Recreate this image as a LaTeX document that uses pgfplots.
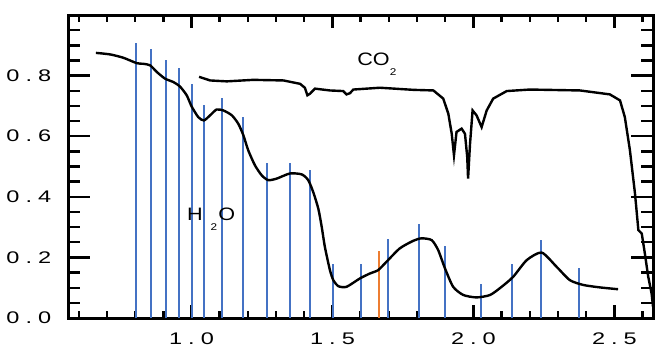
\documentclass[border=0pt]{standalone}
\usepackage{fontspec}
\setmainfont{Liberation Sans}
\newfontfamily\tickfont[FakeStretch=1.4,LetterSpace=36]{Liberation Sans}
\newfontfamily\labfont[FakeStretch=1.2]{Liberation Sans}
\usepackage{pgfplots}
\pgfplotsset{compat=1.18}
\definecolor{vblue}{HTML}{4472C4}
\definecolor{vorange}{HTML}{ED7D31}
\newcommand\sub[1]{\raisebox{-5pt}{\fontsize{4.9}{5}\selectfont #1}}
\begin{document}
\begin{tikzpicture}
\begin{axis}[
  scale only axis, width=292.5pt, height=151.5pt,
  xmin=0.563, xmax=2.638, ymin=0, ymax=1.0,
  xtick={1.0,1.5,2.0,2.5},
  minor xtick={0.6,0.7,0.8,0.9,1.1,1.2,1.3,1.4,1.6,1.7,1.8,1.9,2.1,2.2,2.3,2.4,2.6},
  ytick={0,0.2,0.4,0.6,0.8},
  minor ytick={0.05,0.1,0.15,0.25,0.3,0.35,0.45,0.5,0.55,0.65,0.7,0.75,0.85,0.9,0.95},
  tick align=inside,
  axis line style={line width=1.5pt},
  xtick style={black, line width=1.2pt, /pgfplots/major tick length=6.5pt, /pgfplots/minor tick length=3.5pt},
  ytick style={black, line width=1.2pt, /pgfplots/major tick length=11pt, /pgfplots/minor tick length=6pt},
  xticklabel style={font=\tickfont\fontsize{8.4}{8.4}\selectfont, yshift=-4pt},
  yticklabel style={font=\tickfont\fontsize{8.4}{8.4}\selectfont, xshift=-5pt},
  /pgf/number format/.cd, fixed, fixed zerofill, precision=1, assume math mode=true,
]
\coordinate (ll) at (rel axis cs:0,0);
\coordinate (ur) at (rel axis cs:1,1);
\addplot[ycomb, vblue, line width=0.95pt, mark=none] coordinates {
(0.802,0.907)(0.855,0.888)(0.908,0.852)(0.956,0.826)(1.003,0.773)(1.044,0.702)(1.108,0.727)(1.182,0.665)(1.267,0.510)(1.349,0.510)(1.419,0.490)(1.503,0.177)(1.601,0.177)(1.696,0.260)(1.808,0.310)(1.899,0.237)(2.026,0.112)(2.138,0.177)(2.239,0.259)(2.374,0.166)
};
\addplot[ycomb, vorange, line width=0.9pt, mark=none] coordinates {(1.666,0.221)};
% H2O
\addplot[black, line width=1.2pt, smooth, tension=0.4, mark=none] coordinates {
(0.661,0.875)(0.711,0.870)(0.758,0.859)(0.806,0.841)(0.829,0.839)(0.853,0.834)(0.877,0.812)(0.906,0.790)(0.935,0.779)(0.959,0.764)(0.983,0.735)(1.000,0.699)(1.024,0.663)(1.044,0.652)(1.066,0.669)(1.089,0.688)(1.113,0.685)(1.143,0.669)(1.166,0.641)(1.184,0.603)(1.201,0.554)(1.225,0.504)(1.249,0.471)(1.272,0.455)(1.302,0.460)(1.349,0.477)(1.391,0.474)(1.414,0.455)(1.432,0.415)(1.450,0.360)(1.462,0.300)(1.473,0.235)(1.491,0.158)(1.503,0.125)(1.521,0.105)(1.550,0.103)(1.598,0.131)(1.633,0.147)(1.662,0.158)(1.692,0.186)(1.739,0.230)(1.787,0.255)(1.816,0.263)(1.852,0.257)(1.875,0.224)(1.899,0.164)(1.928,0.103)(1.964,0.076)(2.011,0.068)(2.059,0.076)(2.100,0.103)(2.141,0.136)(2.189,0.191)(2.242,0.216)(2.295,0.169)(2.342,0.125)(2.390,0.109)(2.449,0.101)(2.513,0.095)
};
% CO2
\addplot[black, line width=1.2pt, mark=none] coordinates {
(1.027,0.796)(1.066,0.784)(1.125,0.781)(1.219,0.786)(1.326,0.784)(1.385,0.773)(1.402,0.760)(1.411,0.735)(1.420,0.740)(1.438,0.757)(1.491,0.751)(1.538,0.749)(1.550,0.738)(1.562,0.742)(1.574,0.754)(1.668,0.760)(1.787,0.753)(1.858,0.751)(1.893,0.724)(1.911,0.674)(1.923,0.608)(1.931,0.537)(1.940,0.614)(1.958,0.625)(1.970,0.608)(1.978,0.531)(1.981,0.460)(1.988,0.576)(1.997,0.685)(2.011,0.669)(2.029,0.630)(2.047,0.685)(2.070,0.724)(2.118,0.749)(2.200,0.754)(2.378,0.751)(2.484,0.738)(2.520,0.718)(2.537,0.663)(2.555,0.554)(2.573,0.411)(2.585,0.290)(2.597,0.279)(2.608,0.213)(2.620,0.136)(2.632,0.081)(2.637,0.037)
};
\node[anchor=base west, inner sep=0pt, font=\labfont\fontsize{9}{9}\selectfont] at (axis cs:1.587,0.834) {CO\sub{2}};
\node[anchor=base west, inner sep=0pt, font=\labfont\fontsize{9}{9}\selectfont] at (axis cs:0.983,0.323) {H\hspace{4pt}\sub{2}\hspace{0.5pt}O};
\end{axis}
\pgfresetboundingbox
\path[use as bounding box] ([xshift=-34.15pt,yshift=-16pt]ll) rectangle ([xshift=7.35pt,yshift=7.5pt]ur);
\end{tikzpicture}
\end{document}
